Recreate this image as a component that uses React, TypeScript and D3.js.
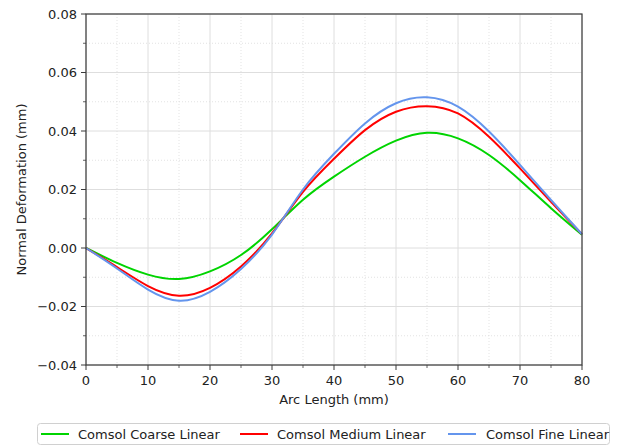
import React from "react";
import * as d3 from "d3";

const arcLength = [0, 5, 10, 15, 20, 25, 30, 35, 40, 45, 50, 55, 60, 65, 70, 75, 80];
const coarse = [0, -0.0051, -0.0091, -0.0106, -0.0080, -0.0024, 0.0064, 0.0165, 0.0244, 0.0312, 0.0367, 0.0394, 0.0375, 0.0318, 0.0232, 0.0136, 0.0045];
const medium = [0, -0.0065, -0.0130, -0.0163, -0.0136, -0.0063, 0.0050, 0.0192, 0.0305, 0.0403, 0.0466, 0.0485, 0.0460, 0.0380, 0.0272, 0.0158, 0.0047];
const fine = [0, -0.0070, -0.0142, -0.0180, -0.0150, -0.0072, 0.0046, 0.0200, 0.0322, 0.0426, 0.0495, 0.0515, 0.0483, 0.0398, 0.0284, 0.0164, 0.0047];

const xTicks = [0, 10, 20, 30, 40, 50, 60, 70, 80];
const xMinor = [5, 15, 25, 35, 45, 55, 65, 75];
const yTicks = [-0.04, -0.02, 0, 0.02, 0.04, 0.06, 0.08];
const yMinor = [-0.03, -0.01, 0.01, 0.03, 0.05, 0.07];

const seriesNames = ["Comsol Coarse Linear", "Comsol Medium Linear", "Comsol Fine Linear"];
const seriesColors = ["#00d400", "#ff0000", "#6495ed"];
const seriesData = [coarse, medium, fine];

const W = 617, H = 447;
const L = 86, R = 582, T = 14, B = 365;
const FONT = "DejaVu Sans, sans-serif";
const FS = 13;

export default function App() {
  const x = d3.scaleLinear().domain([0, 80]).range([L, R]);
  const y = d3.scaleLinear().domain([-0.04, 0.08]).range([B, T]);
  const line = d3
    .line<number>()
    .x((_, i) => x(arcLength[i]))
    .y((d) => y(d))
    .curve(d3.curveNatural);
  const fmt = (v: number) => (v < 0 ? "\u2212" : "") + Math.abs(v).toFixed(2);
  const legendItems = [
    { lx: 41, tx: 78 },
    { lx: 240, tx: 277 },
    { lx: 448, tx: 486 },
  ];
  return (
    <div style={{ position: "absolute", left: 0, top: 0 }}>
      <svg width={W} height={H} style={{ display: "block", background: "#fff" }} fontFamily={FONT}>
        <rect x={0} y={0} width={W} height={H} fill="#fff" />
        {xMinor.map((v) => (
          <line key={"xm" + v} x1={x(v)} x2={x(v)} y1={T} y2={B} stroke="#dcdcdc" strokeWidth={0.8} strokeDasharray="1,2" />
        ))}
        {yMinor.map((v) => (
          <line key={"ym" + v} x1={L} x2={R} y1={y(v)} y2={y(v)} stroke="#dcdcdc" strokeWidth={0.8} strokeDasharray="1,2" />
        ))}
        {xTicks.map((v) => (
          <line key={"xg" + v} x1={x(v)} x2={x(v)} y1={T} y2={B} stroke="#dedede" strokeWidth={1} />
        ))}
        {yTicks.map((v) => (
          <line key={"yg" + v} x1={L} x2={R} y1={y(v)} y2={y(v)} stroke="#dedede" strokeWidth={1} />
        ))}
        {seriesData.map((s, i) => (
          <path key={"s" + i} d={line(s) || ""} fill="none" stroke={seriesColors[i]} strokeWidth={2} />
        ))}
        <rect x={L} y={T} width={R - L} height={B - T} fill="none" stroke="#3a3a3a" strokeWidth={1.2} />
        {xTicks.map((v) => (
          <g key={"xt" + v}>
            <line x1={x(v)} x2={x(v)} y1={B} y2={B + 5} stroke="#3a3a3a" strokeWidth={1} />
            <text x={x(v)} y={385} fontSize={FS} textAnchor="middle" fill="#222">{v}</text>
          </g>
        ))}
        {xMinor.map((v) => (
          <line key={"xmt" + v} x1={x(v)} x2={x(v)} y1={B} y2={B + 3} stroke="#3a3a3a" strokeWidth={0.8} />
        ))}
        {yTicks.map((v) => (
          <g key={"yt" + v}>
            <line x1={L - 5} x2={L} y1={y(v)} y2={y(v)} stroke="#3a3a3a" strokeWidth={1} />
            <text x={77} y={y(v)} dy="0.35em" fontSize={FS} textAnchor="end" fill="#222">{fmt(v)}</text>
          </g>
        ))}
        {yMinor.map((v) => (
          <line key={"ymt" + v} x1={L - 3} x2={L} y1={y(v)} y2={y(v)} stroke="#3a3a3a" strokeWidth={0.8} />
        ))}
        <text x={(L + R) / 2} y={404} fontSize={FS} textAnchor="middle" fill="#222">Arc Length (mm)</text>
        <text transform={`translate(26,${(T + B) / 2}) rotate(-90)`} fontSize={FS} textAnchor="middle" fill="#222">Normal Deformation (mm)</text>
        <rect x={37.5} y={423.5} width={572} height={21} rx={3} fill="#fff" stroke="#d0d0d0" strokeWidth={1} />
        {legendItems.map((it, i) => (
          <g key={"lg" + i}>
            <line x1={it.lx} x2={it.lx + 28} y1={434} y2={434} stroke={seriesColors[i]} strokeWidth={2} />
            <text x={it.tx} y={434} dy="0.35em" fontSize={FS} fill="#222">{seriesNames[i]}</text>
          </g>
        ))}
      </svg>
    </div>
  );
}
